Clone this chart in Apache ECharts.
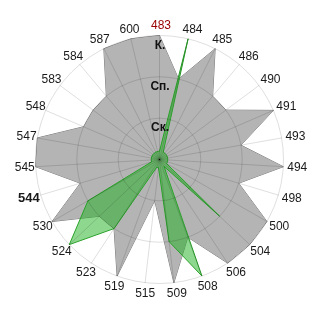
<!DOCTYPE html>
<html><head><meta charset="utf-8">
<script src="https://cdn.jsdelivr.net/npm/echarts@6/dist/echarts.min.js"></script>
<style>html,body{margin:0;padding:0;background:#fff}#c{width:320px;height:320px}</style>
</head><body><div id="c"></div>
<script>
// categories clockwise from the top
var categories = ['483','484','485','486','490','491','493','494','498','500','504','506','508','509','515','519','523','524','530','544','545','547','548','583','584','587','600'];
var greyValues = [3,2,3,2,2,3,2,3,2,3,3,3,2,3,1,3,2,2,3,2,3,3,2,2,2,3,3];
var greenValues = [0.2,3,0.2,0.2,0.2,0.2,0.2,0.2,0.2,0.2,2,0.2,3,2,0.2,0.2,2,3,2,0.2,0.2,0.2,0.2,0.2,0.2,0.2,0.2];
var levelLabels = ['Ск.','Сп.','К.'];
var highlightRed = '483';
var highlightBold = '544';
var maxValue = 3;

var CX = 159.5, CY = 159.5, R = 124;
var FONT = '"Liberation Sans", Arial, sans-serif';
// ECharts lays out radar indicators anticlockwise; reverse (keeping first on top) for clockwise order
function reorder(arr){ return [arr[0]].concat(arr.slice(1).reverse()); }
var indicator = reorder(categories).map(function(n){ return {name:n, min:0, max:maxValue}; });

var graphics = [];
levelLabels.forEach(function(t, i){
  graphics.push({type:'text', z:100, x: CX + 0.5, y: CY - (i+1)*R/maxValue + 4,
    style:{text:t, textAlign:'center', textVerticalAlign:'top', fill:'#111',
      font:'bold 12px ' + FONT}});
});
// category labels around the circle, just outside the outer ring
var step = 2*Math.PI/categories.length;
categories.forEach(function(n, i){
  var a = i*step, dx = Math.sin(a), dy = -Math.cos(a);
  var ex = CX + R*dx, ey = CY + R*dy;
  var isBold = n === highlightBold;
  graphics.push({type:'text', z:100,
    x: ex + dx*(isBold ? 14 : 12.5) + 1.5, y: ey + dy*10.3 + 0.5,
    style:{text:n, textAlign:'center', textVerticalAlign:'middle',
      fill: n === highlightRed ? '#9a0000' : '#1a1a1a',
      font: (isBold ? 'bold 13px ' : '12px ') + FONT}});
});

var chart = echarts.init(document.getElementById('c'), null, {renderer:'canvas'});
chart.setOption({
  animation:false,
  textStyle:{fontFamily:FONT},
  radar:{
    z:3,
    center:[CX, CY], radius:R, startAngle:90, shape:'circle', splitNumber:3,
    indicator: indicator,
    axisName:{show:false},
    splitArea:{show:false},
    splitLine:{lineStyle:{color:'rgba(0,0,0,0.13)', width:1}},
    axisLine:{lineStyle:{color:'rgba(0,0,0,0.13)', width:1}}
  },
  graphic: graphics,
  series:[{
    type:'radar', symbol:'none',
    data:[
      {value: reorder(greyValues), lineStyle:{color:'#7a7a7a', width:1}, areaStyle:{color:'#b4b4b4', opacity:1}},
      {value: reorder(greenValues), lineStyle:{color:'#2e9e2e', width:1}, areaStyle:{color:'rgba(30,176,30,0.5)', opacity:1}}
    ]
  }]
});
</script></body></html>
